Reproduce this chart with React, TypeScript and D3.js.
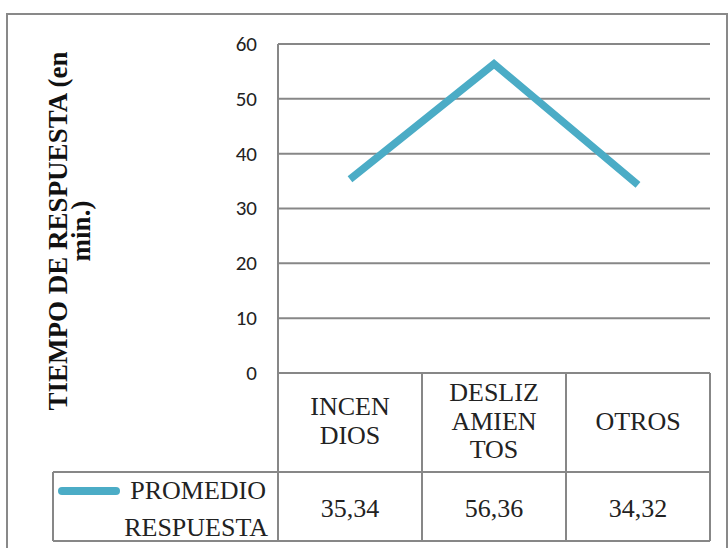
import React from "react";
import * as d3 from "d3";

const categories: string[][] = [["INCEN", "DIOS"], ["DESLIZ", "AMIEN", "TOS"], ["OTROS"]];
const values: number[] = [35.34, 56.36, 34.32];
const valueLabels: string[] = ["35,34", "56,36", "34,32"];
const yTicks: number[] = [0, 10, 20, 30, 40, 50, 60];
const seriesName: string[] = ["PROMEDIO", "RESPUESTA"];
const yTitle: string[] = ["TIEMPO DE RESPUESTA (en", "min.)"];

const W = 728, H = 548;
const plotL = 278, plotR = 710, plotT = 44, plotB = 373;
const catRowB = 472, dataRowB = 541, dataRowL = 53;
const lineColor = "#4BACC6";
const gridColor = "#878787";

export default function App() {
  const x = d3.scaleBand<number>().domain(values.map((_, i) => i)).range([plotL, plotR]);
  const y = d3.scaleLinear().domain([0, 60]).range([plotB, plotT]);
  const line = d3.line<number>().x((_, i) => (x(i) as number) + x.bandwidth() / 2).y((d) => y(d));
  const serif = "Liberation Serif, Times New Roman, serif";
  const sans = "Carlito, Calibri, sans-serif";
  const colEdges = [...values.map((_, i) => x(i) as number), plotR];
  return (
    <svg width={W} height={H} style={{ position: "absolute", left: 0, top: 0, background: "#fff" }}>
      <rect x={7} y={14} width={720} height={560} fill="#fff" stroke="#898989" strokeWidth={2} />
      {yTicks.map((t) => (
        <g key={t}>
          <line x1={plotL} x2={plotR} y1={y(t)} y2={y(t)} stroke={gridColor} strokeWidth={2} />
          <text x={257} y={y(t)} dy="0.33em" textAnchor="end" fontFamily={sans} fontSize={21} fill="#222">{t}</text>
        </g>
      ))}
      <line x1={plotL} x2={plotL} y1={plotT} y2={dataRowB} stroke={gridColor} strokeWidth={2} />
      {colEdges.slice(1).map((cx, i) => (
        <line key={i} x1={cx} x2={cx} y1={plotB} y2={dataRowB} stroke={gridColor} strokeWidth={2} />
      ))}
      <line x1={dataRowL} x2={plotR} y1={catRowB} y2={catRowB} stroke={gridColor} strokeWidth={2} />
      <line x1={dataRowL} x2={plotR} y1={dataRowB} y2={dataRowB} stroke={gridColor} strokeWidth={2} />
      <line x1={dataRowL} x2={dataRowL} y1={catRowB} y2={dataRowB} stroke={gridColor} strokeWidth={2} />
      <path d={line(values) || ""} fill="none" stroke={lineColor} strokeWidth={7.5} strokeLinejoin="miter" />
      {categories.map((lines, i) => {
        const cx = (x(i) as number) + x.bandwidth() / 2;
        const mid = 421;
        const lh = 28.5;
        const start = mid - ((lines.length - 1) * lh) / 2;
        return (
          <text key={i} x={cx} textAnchor="middle" fontFamily={serif} fontSize={26} fill="#222">
            {lines.map((l, j) => (
              <tspan key={j} x={cx} y={start + j * lh} dy="0.33em">{l}</tspan>
            ))}
          </text>
        );
      })}
      {valueLabels.map((v, i) => (
        <text key={i} x={(x(i) as number) + x.bandwidth() / 2} y={508} dy="0.33em" textAnchor="middle" fontFamily={serif} fontSize={26} fill="#222">{v}</text>
      ))}
      <line x1={62} x2={116} y1={491} y2={491} stroke={lineColor} strokeWidth={8} strokeLinecap="round" />
      <text textAnchor="end" fontFamily={serif} fontSize={26} fill="#222">
        <tspan x={266} y={499}>{seriesName[0]}</tspan>
        <tspan x={268} y={536}>{seriesName[1]}</tspan>
      </text>
      <text transform="translate(67,231) rotate(-90)" textAnchor="middle" fontFamily={serif} fontWeight="bold" fontSize={27} fill="#111">
        <tspan x={0} y={0}>{yTitle[0]}</tspan>
        <tspan x={0} y={23}>{yTitle[1]}</tspan>
      </text>
    </svg>
  );
}
